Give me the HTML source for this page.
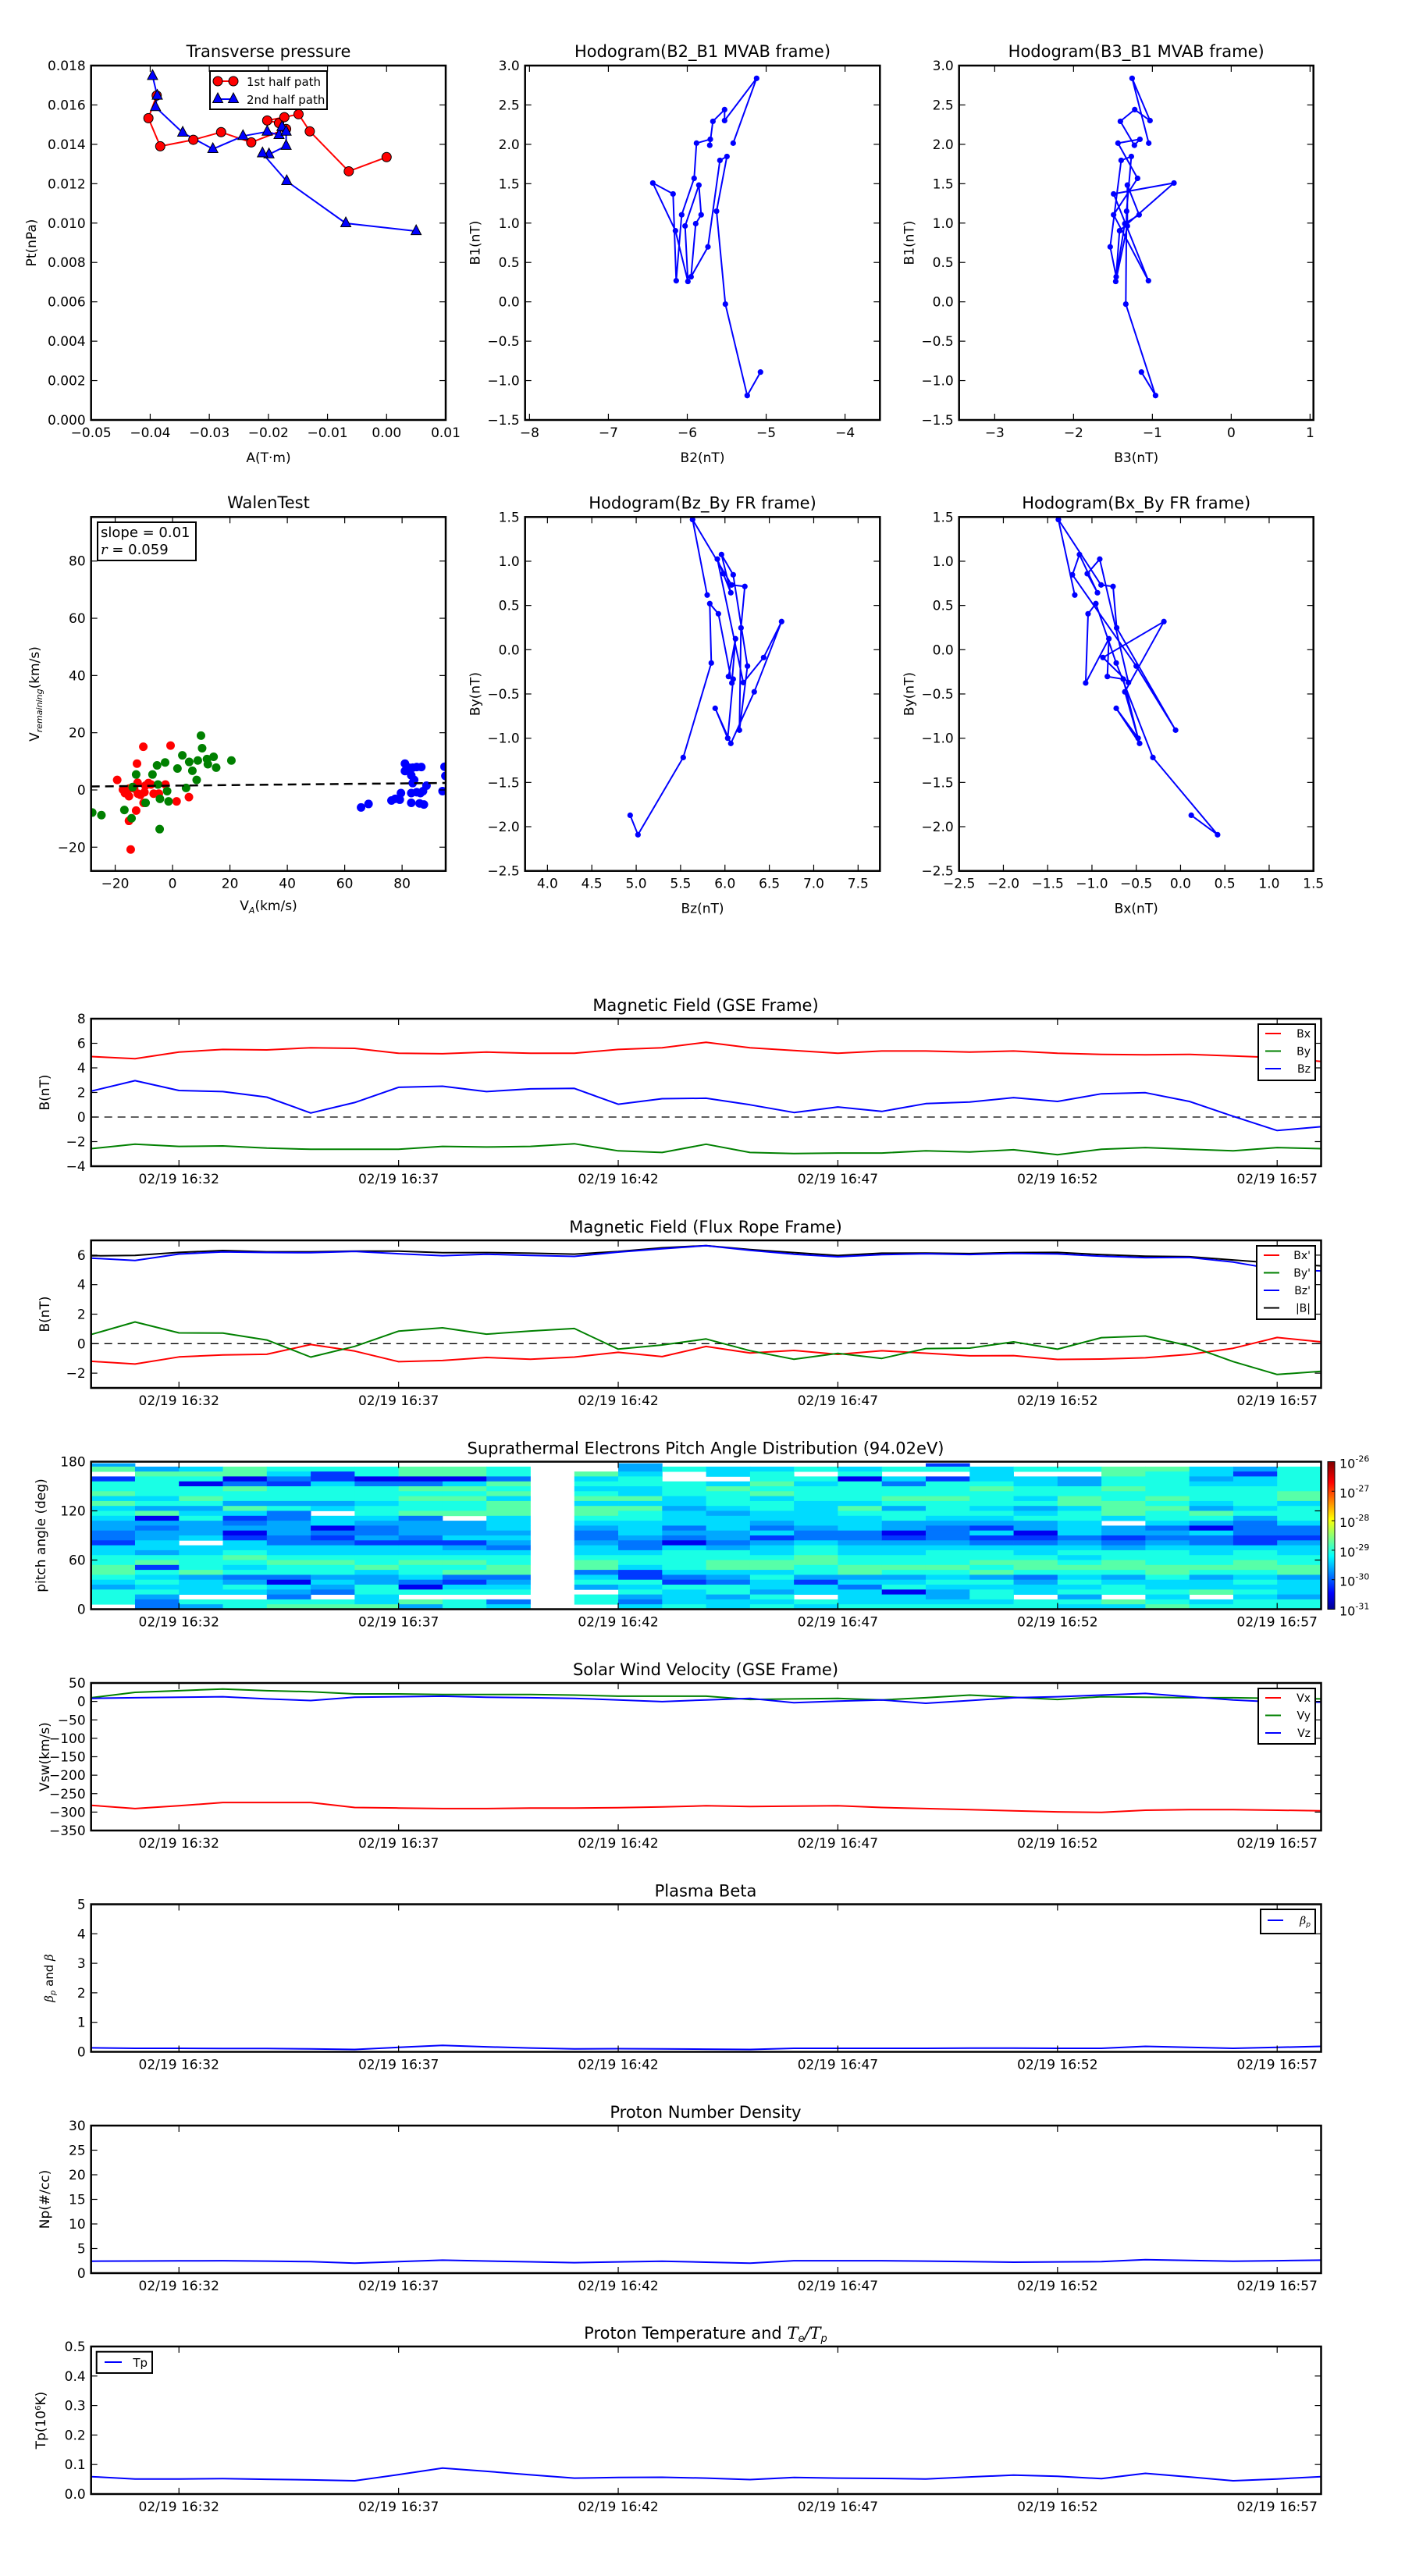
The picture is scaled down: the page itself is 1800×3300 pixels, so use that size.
<!DOCTYPE html>
<html><head><meta charset="utf-8"><title>Flux rope analysis</title>
<style>
html,body{margin:0;padding:0;background:#fff;}
svg{display:block;font-family:"DejaVu Sans","Liberation Sans",sans-serif;}
</style></head>
<body>
<svg id="fig" xmlns="http://www.w3.org/2000/svg" width="1800" height="3300" viewBox="0 0 1800 3300">
<rect x="0" y="0" width="1800" height="3300" fill="#fff"/>
<defs>
<linearGradient id="jet" x1="0" y1="1" x2="0" y2="0">
<stop offset="0" stop-color="#00008f"/><stop offset="0.11" stop-color="#0000ff"/><stop offset="0.36" stop-color="#00ffff"/><stop offset="0.61" stop-color="#ffff00"/><stop offset="0.86" stop-color="#ff0000"/><stop offset="1" stop-color="#800000"/>
</linearGradient>
</defs>
</svg>
<script>
// ---------- data ----------
const ptA1 = [-0.0389,-0.0403,-0.0383,-0.0327,-0.0280,-0.0229,-0.0170,-0.0182,-0.0202,-0.0173,-0.0149,-0.0130,-0.0064,0.0000];
const ptP1 = [0.01648,0.01533,0.01390,0.01423,0.01462,0.01410,0.01478,0.01508,0.01521,0.01538,0.01553,0.01466,0.01263,0.01335];
const ptA2 = [-0.0396,-0.0388,-0.0391,-0.0345,-0.0294,-0.0243,-0.0202,-0.0182,-0.0177,-0.0170,-0.0170,-0.0199,-0.0210,-0.0169,-0.0069,0.0050];
const ptP2 = [0.01747,0.01647,0.01589,0.01459,0.01376,0.01442,0.01464,0.01447,0.01488,0.01464,0.01392,0.01349,0.01354,0.01213,0.00999,0.00959];

const mvB1 = [2.015,2.838,2.302,2.441,2.292,1.988,2.064,2.015,1.568,1.105,0.268,1.370,1.509,0.903,0.259,0.963,1.482,1.105,0.993,0.318,0.698,1.796,1.846,1.151,-0.029,-1.190,-0.892];
const mvB2 = [-5.418,-5.121,-5.527,-5.527,-5.675,-5.715,-5.708,-5.883,-5.913,-6.071,-6.140,-6.180,-6.437,-6.150,-5.992,-6.028,-5.853,-5.824,-5.893,-5.952,-5.738,-5.586,-5.497,-5.629,-5.517,-5.240,-5.072];
const mvB3 = [-1.046,-1.257,-1.030,-1.224,-1.406,-1.228,-1.158,-1.436,-1.188,-1.492,-1.050,-1.492,-0.726,-1.416,-1.465,-1.317,-1.317,-1.168,-1.350,-1.459,-1.535,-1.396,-1.267,-1.327,-1.337,-0.960,-1.139];

const walenRedVA = [-19.3,-17.3,-16.6,-15.2,-15.1,-13.4,-12.2,-12.4,-10.2,-12.1,-11.2,-9.8,-9.5,-8.4,-7.5,-6.6,-4.8,-2.5,-0.7,1.4,5.7,-10.1,-12.7,-15.2,-14.6];
const walenRedVR = [3.5,0.1,-1.1,-2.2,0.5,0.5,2.5,9.2,15.1,-1.3,-1.7,-0.8,1.5,2.4,1.9,-1.3,-1.3,1.9,15.5,-4.0,-2.5,-4.5,-7.2,-10.8,-20.8];
const walenGreenVA = [-28.0,-24.8,-16.8,-14.3,-4.5,-9.4,-4.4,-1.4,-1.9,-5.1,-13.9,-12.7,-7.0,-5.4,-2.6,1.7,3.4,5.8,6.9,8.4,4.7,8.8,9.9,10.3,12.0,12.3,14.3,15.2,20.5];
const walenGreenVR = [-7.9,-8.8,-7.0,-9.9,-13.7,-4.5,-3.1,-4.0,-0.4,1.9,1.0,5.4,5.4,8.6,9.6,7.5,12.1,9.8,6.7,3.5,0.7,10.3,19.0,14.6,10.8,9.0,11.6,7.8,10.3];
const walenBlueVA = [65.7,68.3,76.3,77.6,79.2,79.6,81.0,81.0,82.3,83.7,85.1,86.7,83.2,84.2,83.7,83.2,85.1,86.4,87.3,88.5,83.2,86.1,87.6,94.8,95.1,94.1];
const walenBlueVR = [-6.1,-4.9,-3.7,-3.1,-3.4,-1.1,9.2,6.6,7.8,7.8,8.0,8.0,5.1,3.5,2.4,-1.1,-0.8,-1.1,-0.4,1.5,-4.5,-4.7,-5.1,8.1,4.9,-0.4];
const walenSlope = 0.01;
const walenIntercept = 1.5;

const minutes = [0,1,2,3,4,5,6,7,8,9,10,11,12,13,14,15,16,17,18,19,20,21,22,23,24,25,26,27,28];
const timeTickMin = [2,7,12,17,22,27];
const timeTickLabels = ["02/19 16:32","02/19 16:37","02/19 16:42","02/19 16:47","02/19 16:52","02/19 16:57"];

const gseBx = [4.92,4.74,5.28,5.50,5.46,5.64,5.59,5.19,5.15,5.28,5.19,5.19,5.50,5.64,6.08,5.64,5.41,5.19,5.37,5.37,5.28,5.37,5.19,5.10,5.06,5.10,4.97,4.83,4.52];
const gseBy = [-2.57,-2.21,-2.39,-2.35,-2.53,-2.62,-2.62,-2.62,-2.39,-2.44,-2.39,-2.17,-2.75,-2.88,-2.21,-2.88,-2.97,-2.93,-2.93,-2.75,-2.84,-2.66,-3.06,-2.62,-2.48,-2.62,-2.75,-2.48,-2.57];
const gseBz = [2.11,2.96,2.16,2.07,1.62,0.33,1.18,2.42,2.51,2.07,2.29,2.33,1.04,1.49,1.53,1.00,0.37,0.82,0.46,1.09,1.22,1.58,1.27,1.89,1.98,1.27,0.06,-1.10,-0.79];

const frBx = [-1.194,-1.379,-0.897,-0.762,-0.721,-0.056,-0.500,-1.221,-1.141,-0.938,-1.053,-0.912,-0.588,-0.876,-0.188,-0.629,-0.462,-0.726,-0.479,-0.647,-0.826,-0.809,-1.071,-1.044,-0.956,-0.726,-0.312,0.418,0.121];
const frBy = [0.618,1.471,0.732,0.715,0.247,-0.909,-0.185,0.847,1.076,0.644,0.859,1.024,-0.371,-0.088,0.318,-0.476,-1.059,-0.662,-1.000,-0.332,-0.303,0.124,-0.376,0.406,0.521,-0.150,-1.218,-2.091,-1.871];
const frBz = [5.800,5.635,6.075,6.224,6.181,6.163,6.254,6.093,5.961,6.066,5.981,5.914,6.207,6.436,6.638,6.330,6.066,5.890,6.031,6.093,6.040,6.119,6.078,5.926,5.829,5.846,5.530,5.020,4.932];
const frBt = [5.954,5.985,6.185,6.311,6.228,6.230,6.277,6.272,6.164,6.172,6.133,6.071,6.246,6.496,6.648,6.379,6.175,5.971,6.132,6.136,6.104,6.173,6.183,6.031,5.930,5.893,5.671,5.454,5.276];

const swVx = [-281.6,-290.5,-283,-274,-274,-274,-287.6,-289,-290.5,-290.5,-289,-289,-288,-286,-283,-285,-284,-283,-287.6,-290.5,-293.5,-296.5,-299.5,-301,-295,-293.5,-293.5,-295,-296.5];
const swVy = [9.9,24.7,29,33.6,29,26.2,20.3,20.3,18.8,18.8,18.8,17.3,14.3,14.3,14.3,5.4,6.9,8.4,4,9.9,17.3,11.3,5.4,12.8,11.3,9.9,9.9,8.4,6.9];
const swVz = [8.4,9.9,11.3,12.8,6.9,2.4,11.3,12.8,14.3,11.3,9.9,8.4,4,-0.6,4,8.4,-3.5,0.9,4,-5,2.4,9.9,12.8,17.3,21.7,12.8,4,-1.9,-1.9];

const betaP = [0.135,0.12,0.12,0.115,0.11,0.10,0.08,0.15,0.22,0.17,0.13,0.10,0.105,0.10,0.09,0.08,0.12,0.12,0.12,0.12,0.125,0.125,0.12,0.12,0.185,0.15,0.12,0.15,0.185];
const densNp = [2.43,2.46,2.50,2.53,2.45,2.33,2.03,2.33,2.63,2.46,2.30,2.13,2.28,2.43,2.23,2.03,2.53,2.53,2.53,2.45,2.35,2.23,2.28,2.33,2.74,2.58,2.43,2.53,2.63];
const tempTp = [0.059,0.051,0.051,0.052,0.050,0.048,0.045,0.066,0.088,0.077,0.065,0.054,0.056,0.057,0.054,0.049,0.056,0.054,0.053,0.051,0.058,0.064,0.060,0.052,0.070,0.058,0.045,0.051,0.059];

// PAD: level codes per time column (top row = 174-180 deg), '.' = no data
const padLevelLog = [null,-30.45,-30.1,-29.8,-29.55,-29.3,-29.0,-28.7,-28.4];
const padCols = [
"47.2667575654433255667765 4666.".replace(' ',''),
".476666564714344554672656 56433".replace(' ',''),
".576166764564445.55666745 55.64".replace(' ',''),
".771376647523412556765634 65.66".replace(' ',''),
".653266646334443355676631 54367".replace(' ',''),
".622566645.55132355676645 43.67".replace(' ',''),
".661366656654334255667544 66557".replace(' ',''),
".771376766734443255676653 16.74".replace(' ',''),
".77157676 67.444524567673256.66".replace(' ',''),
".663767577755545435667734 56.35".replace(' ',''),
"..............................",
"..75656757765433455677356 4.66.".replace(' ',''),
"445665575766555433566522 656435".replace(' ',''),
".6..666554555343156666532 65556".replace(' ',''),
".55.576665455544346677543 66455".replace(' ',''),
".566767566554352455677565 54656".replace(' ',''),
".6.6566655555433566776642 55.65".replace(' ',''),
".561666657655533455667745 35556".replace(' ',''),
".6.5366764664412455667645 61556".replace(' ',''),
"26.2666766654333456667656 54456".replace(' ',''),
".555676665654252356676746 56656".replace(' ',''),
".6.5566564564412355677634 55.66".replace(' ',''),
".6.4466775665553456567656 56465".replace(' ',''),
".7766766777 5.442346677645 66.75".replace(/ /g,''),
".766666767665343456667765 56567".replace(' ',''),
".554566654764153355667645 57.56".replace(' ',''),
".425566665643332256677656 56566".replace(' ',''),
".666667756665332455667745 55466".replace(' ','')
];
const cbLabels = ["-26","-27","-28","-29","-30","-31"];

// ---------- helpers ----------
const NS = 'http://www.w3.org/2000/svg';
const svg = document.getElementById('fig');
function mk(tag, attrs, name, parent) {
  const e = document.createElementNS(NS, tag);
  for (const k in attrs) e.setAttribute(k, attrs[k]);
  
  
  (parent || svg).appendChild(e);
  return e;
}
function txt(x, y, s, o, name, parent) {
  o = o || {};
  const a = {x: x, y: y, 'font-size': o.size || 17, fill: '#000', 'text-anchor': o.anchor || 'middle'};
  if (o.rot) a.transform = 'rotate(-90 ' + x + ' ' + y + ')';
  if (o.style) a['font-style'] = o.style;
  const t = mk('text', a, name, parent);
  t.textContent = s;
  return t;
}
function lin(d0, d1, r0, r1) { return v => r0 + (v - d0) / (d1 - d0) * (r1 - r0); }
let clipN = 0;
function axes(p) {
  const g = mk('g', {}, p.name);
  const id = 'clip' + (clipN++);
  const cp = mk('clipPath', {id: id}, p.name + '-clip', g);
  mk('rect', {x: p.x0, y: p.y0, width: p.x1 - p.x0, height: p.y1 - p.y0}, 'clip-rect', cp);
  const data = mk('g', {'clip-path': 'url(#' + id + ')'}, p.name + '-plot-area', g);
  p.xt.forEach((v, i) => {
    const X = p.xs(v);
    mk('line', {x1: X, y1: p.y1, x2: X, y2: p.y1 - 8, stroke: '#000', 'stroke-width': 1.2}, 'x-tick', g);
    mk('line', {x1: X, y1: p.y0, x2: X, y2: p.y0 + 8, stroke: '#000', 'stroke-width': 1.2}, 'x-tick', g);
    txt(X, p.y1 + 22, p.xl[i], {}, 'x-tick-label', g);
  });
  p.yt.forEach((v, i) => {
    const Y = p.ys(v);
    mk('line', {x1: p.x0, y1: Y, x2: p.x0 + 8, y2: Y, stroke: '#000', 'stroke-width': 1.2}, 'y-tick', g);
    mk('line', {x1: p.x1, y1: Y, x2: p.x1 - 8, y2: Y, stroke: '#000', 'stroke-width': 1.2}, 'y-tick', g);
    txt(p.x0 - 7, Y + 6, p.yl[i], {anchor: 'end'}, 'y-tick-label', g);
  });
  p.g = g; p.data = data;
  return p;
}
function frame(p) {
  mk('rect', {x: p.x0, y: p.y0, width: p.x1 - p.x0, height: p.y1 - p.y0, fill: 'none', stroke: '#000', 'stroke-width': 2.5}, 'axes-frame', p.g);
}
function polyline(p, xs, ys, color, name, w) {
  const pts = xs.map((x, i) => p.xs(x).toFixed(1) + ',' + p.ys(ys[i]).toFixed(1)).join(' ');
  return mk('polyline', {points: pts, fill: 'none', stroke: color, 'stroke-width': w || 2, 'stroke-linejoin': 'round'}, name, p.data);
}
function dots(p, xs, ys, color, r, name, stroke) {
  xs.forEach((x, i) => {
    const c = mk('circle', {cx: p.xs(x), cy: p.ys(ys[i]), r: r, fill: color}, name, p.data);
    if (stroke) { c.setAttribute('stroke', stroke); c.setAttribute('stroke-width', 1); }
  });
}
function tris(p, xs, ys, color, name) {
  xs.forEach((x, i) => {
    const X = p.xs(x), Y = p.ys(ys[i]);
    mk('polygon', {points: (X) + ',' + (Y - 8) + ' ' + (X - 6.5) + ',' + (Y + 4.5) + ' ' + (X + 6.5) + ',' + (Y + 4.5), fill: color, stroke: '#000', 'stroke-width': 1}, name, p.data);
  });
}
function range(a, b, s) { const r = []; for (let v = a; v <= b + 1e-9; v += s) r.push(+v.toFixed(6)); return r; }
function fmt(v, d) { const s = Math.abs(v).toFixed(d); return (v < 0 ? '\u2212' : '') + s; }

// ---------- top row ----------
const TX = [[116.7, 571], [672.7, 1127.3], [1228.7, 1682.7]];
const TY1 = [84, 538], TY2 = [662.3, 1115.7];

// Transverse pressure
{
  const yt = range(0, 0.018, 0.002);
  const xt = range(-0.05, 0.01, 0.01);
  const p = axes({name: 'transverse-pressure-chart', x0: TX[0][0], x1: TX[0][1], y0: TY1[0], y1: TY1[1],
    xs: lin(-0.05, 0.01, TX[0][0], TX[0][1]), ys: lin(0, 0.018, TY1[1], TY1[0]),
    xt: xt, xl: xt.map(v => fmt(v, 2)), yt: yt, yl: yt.map(v => fmt(v, 3))});
  polyline(p, ptA1, ptP1, '#ff0000', 'first-half-path-line');
  polyline(p, ptA2, ptP2, '#0000ff', 'second-half-path-line');
  dots(p, ptA1, ptP1, '#ff0000', 6, 'first-half-point', '#000');
  tris(p, ptA2, ptP2, '#0000ff', 'second-half-point');
  frame(p);
  txt(344, 73, 'Transverse pressure', {size: 21}, 'transverse-pressure-title');
  txt(344, 592, 'A(T\u00b7m)', {}, 'x-axis-title');
  txt(46, 311, 'Pt(nPa)', {rot: true}, 'y-axis-title');
  const lg = mk('g', {}, 'legend');
  mk('rect', {x: 269, y: 91, width: 150, height: 49, fill: '#fff', stroke: '#000', 'stroke-width': 2}, 'legend-box', lg);
  mk('line', {x1: 279, y1: 104, x2: 299, y2: 104, stroke: '#f00', 'stroke-width': 2}, 'legend-line-red', lg);
  mk('circle', {cx: 279, cy: 104, r: 6, fill: '#f00', stroke: '#000', 'stroke-width': 1}, 'legend-marker', lg);
  mk('circle', {cx: 299, cy: 104, r: 6, fill: '#f00', stroke: '#000', 'stroke-width': 1}, 'legend-marker', lg);
  txt(316, 110, '1st half path', {size: 15, anchor: 'start'}, 'legend-entry-first-half', lg);
  mk('line', {x1: 279, y1: 127, x2: 299, y2: 127, stroke: '#00f', 'stroke-width': 2}, 'legend-line-blue', lg);
  mk('polygon', {points: '279,119 272.5,131.5 285.5,131.5', fill: '#00f', stroke: '#000', 'stroke-width': 1}, 'legend-marker', lg);
  mk('polygon', {points: '299,119 292.5,131.5 305.5,131.5', fill: '#00f', stroke: '#000', 'stroke-width': 1}, 'legend-marker', lg);
  txt(316, 133, '2nd half path', {size: 15, anchor: 'start'}, 'legend-entry-second-half', lg);
}
function hodo(name, col, row, xd, yd, xt, yt, xdec, ydec, xv, yv, title, xlab, ylab) {
  const X = TX[col], Y = row ? TY2 : TY1;
  const p = axes({name: name, x0: X[0], x1: X[1], y0: Y[0], y1: Y[1], xs: lin(xd[0], xd[1], X[0], X[1]), ys: lin(yd[0], yd[1], Y[1], Y[0]),
    xt: xt, xl: xt.map(v => fmt(v, xdec)), yt: yt, yl: yt.map(v => fmt(v, ydec))});
  polyline(p, xv, yv, '#0000ff', 'hodogram-path');
  dots(p, xv, yv, '#0000ff', 3.6, 'hodogram-point');
  frame(p);
  const cx = (X[0] + X[1]) / 2;
  txt(cx, Y[0] - 11, title, {size: 21}, name + '-title');
  txt(cx, Y[1] + 54, xlab, {}, 'x-axis-title');
  txt(X[0] - 58, (Y[0] + Y[1]) / 2, ylab, {rot: true}, 'y-axis-title');
}
hodo('hodogram-b2-b1', 1, 0, [-8.056, -3.558], [-1.5, 3.0], range(-8, -4, 1), range(-1.5, 3.0, 0.5), 0, 1, mvB2, mvB1, 'Hodogram(B2_B1 MVAB frame)', 'B2(nT)', 'B1(nT)');
hodo('hodogram-b3-b1', 2, 0, [-3.452, 1.043], [-1.5, 3.0], range(-3, 1, 1), range(-1.5, 3.0, 0.5), 0, 1, mvB3, mvB1, 'Hodogram(B3_B1 MVAB frame)', 'B3(nT)', 'B1(nT)');
hodo('hodogram-bz-by', 1, 1, [3.748, 7.746], [-2.5, 1.5], range(4.0, 7.5, 0.5), range(-2.5, 1.5, 0.5), 1, 1, frBz, frBy, 'Hodogram(Bz_By FR frame)', 'Bz(nT)', 'By(nT)');
hodo('hodogram-bx-by', 2, 1, [-2.5, 1.5], [-2.5, 1.5], range(-2.5, 1.5, 0.5), range(-2.5, 1.5, 0.5), 1, 1, frBx, frBy, 'Hodogram(Bx_By FR frame)', 'Bx(nT)', 'By(nT)');

// Walen test
{
  const xt = range(-20, 80, 20), yt = range(-20, 80, 20);
  const p = axes({name: 'walen-test-chart', x0: TX[0][0], x1: TX[0][1], y0: TY2[0], y1: TY2[1],
    xs: lin(-28.4, 95.2, TX[0][0], TX[0][1]), ys: lin(-28.3, 95.4, TY2[1], TY2[0]),
    xt: xt, xl: xt.map(v => fmt(v, 0)), yt: yt, yl: yt.map(v => fmt(v, 0))});
  dots(p, walenRedVA, walenRedVR, '#ff0000', 5.5, 'walen-point-x');
  dots(p, walenGreenVA, walenGreenVR, '#008000', 5.5, 'walen-point-y');
  dots(p, walenBlueVA, walenBlueVR, '#0000ff', 5.5, 'walen-point-z');
  const fx = [-28.4, 95.2];
  polyline(p, fx, fx.map(v => walenSlope * v + walenIntercept), '#000', 'walen-fit-line', 2.5).setAttribute('stroke-dasharray', '11,7');
  frame(p);
  txt(344, 651, 'WalenTest', {size: 21}, 'walen-test-title');
  mk('rect', {x: 125, y: 669, width: 126, height: 49, fill: '#fff', stroke: '#000', 'stroke-width': 2}, 'walen-stats-box');
  txt(129, 688, 'slope = 0.01', {size: 18, anchor: 'start'}, 'walen-slope-text');
  const t = txt(129, 710, '', {size: 18, anchor: 'start'}, 'walen-r-text');
  const ts = document.createElementNS(NS, 'tspan'); ts.setAttribute('font-style', 'italic'); ts.setAttribute('font-family', 'DejaVu Serif, serif'); ts.textContent = 'r';
  
  
  t.appendChild(ts); t.appendChild(document.createTextNode(' = 0.059'));
  const xl = txt(344, 1166, 'V', {}, 'x-axis-title');
  const s1 = document.createElementNS(NS, 'tspan'); s1.setAttribute('font-size', '11'); s1.setAttribute('font-style', 'italic'); s1.setAttribute('dy', '4'); s1.textContent = 'A';
  
  
  const s2 = document.createElementNS(NS, 'tspan'); s2.setAttribute('dy', '-4'); s2.textContent = '(km/s)';
  
  
  xl.appendChild(s1); xl.appendChild(s2);
  const yl = txt(50, 889, 'V', {rot: true}, 'y-axis-title');
  const s3 = document.createElementNS(NS, 'tspan'); s3.setAttribute('font-size', '11'); s3.setAttribute('font-style', 'italic'); s3.setAttribute('dy', '4'); s3.textContent = 'remaining';
  
  
  const s4 = document.createElementNS(NS, 'tspan'); s4.setAttribute('dy', '-4'); s4.textContent = '(km/s)';
  
  
  yl.appendChild(s3); yl.appendChild(s4);
}

// ---------- time series panels ----------
const LX = 116.7, RX = 1692.5, PH = 189;
const tx = lin(0, 28, LX, RX);
function tpanel(name, top, yd, yt, ydec, title, ylab) {
  const p = axes({name: name, x0: LX, x1: RX, y0: top, y1: top + PH, xs: tx, ys: lin(yd[0], yd[1], top + PH, top),
    xt: timeTickMin, xl: timeTickLabels, yt: yt, yl: yt.map(v => fmt(v, ydec))});
  txt(904, top - 10, title, {size: 21}, name + '-title');
  if (ylab) txt(63, top + PH / 2, ylab, {rot: true}, 'y-axis-title');
  return p;
}
function legend(x, y, w, rows, entries, name) {
  const g = mk('g', {}, name);
  mk('rect', {x: x, y: y, width: w, height: rows, fill: '#fff', stroke: '#000', 'stroke-width': 2}, 'legend-box', g);
  entries.forEach((e, i) => {
    const yy = y + 12 + i * 22.5;
    mk('line', {x1: x + 9, y1: yy, x2: x + 29, y2: yy, stroke: e[1], 'stroke-width': 2}, 'legend-line', g);
    txt(x + w - 6, yy + 5, e[0], {size: 14, anchor: 'end'}, 'legend-entry-' + e[0].replace(/[^A-Za-z]/g, '').toLowerCase(), g);
  });
}
function zeroLine(p) {
  mk('line', {x1: LX, y1: p.ys(0), x2: RX, y2: p.ys(0), stroke: '#000', 'stroke-width': 1.3, 'stroke-dasharray': '10,7'}, 'zero-line', p.data);
}
// GSE
{
  const p = tpanel('magnetic-field-gse-chart', 1305, [-4, 8], range(-4, 8, 2), 0, 'Magnetic Field (GSE Frame)', 'B(nT)');
  zeroLine(p);
  polyline(p, minutes, gseBx, '#ff0000', 'series-bx');
  polyline(p, minutes, gseBy, '#008000', 'series-by');
  polyline(p, minutes, gseBz, '#0000ff', 'series-bz');
  frame(p);
  legend(1612, 1312, 73, 72, [['Bx', '#ff0000'], ['By', '#008000'], ['Bz', '#0000ff']], 'gse-legend');
}
// Flux rope frame
{
  const p = tpanel('magnetic-field-fr-chart', 1589, [-3, 7], range(-2, 6, 2), 0, 'Magnetic Field (Flux Rope Frame)', 'B(nT)');
  zeroLine(p);
  polyline(p, minutes, frBx, '#ff0000', 'series-bx-prime');
  polyline(p, minutes, frBy, '#008000', 'series-by-prime');
  polyline(p, minutes, frBt, '#000000', 'series-b-total');
  polyline(p, minutes, frBz, '#0000ff', 'series-bz-prime');
  frame(p);
  legend(1610, 1596, 75, 94, [["Bx'", '#ff0000'], ["By'", '#008000'], ["Bz'", '#0000ff'], ['|B|', '#000000']], 'fr-legend');
}
// PAD
{
  const top = 1872.5;
  const p = tpanel('pitch-angle-distribution-chart', top, [0, 180], [0, 60, 120, 180], 0, 'Suprathermal Electrons Pitch Angle Distribution (94.02eV)', null);
  txt(58, top + PH / 2, 'pitch angle (deg)', {rot: true}, 'y-axis-title');
  padCols.forEach((col, c) => {
    for (let r = 0; r < 30; r++) {
      const ch = col[r];
      if (!ch || ch === '.') continue;
      const lg = padLevelLog[+ch];
      const f = (lg + 31) / 5;
      const cl = v => Math.round(255 * Math.max(0, Math.min(1, v)));
      const rr = cl(1.5 - Math.abs(4 * f - 3)), gg = cl(1.5 - Math.abs(4 * f - 2)), bb = cl(1.5 - Math.abs(4 * f - 1));
      const a0 = 180 - 6 * r, a1 = 174 - 6 * r;
      const x0 = p.xs(c), x1 = p.xs(c + 1);
      mk('rect', {x: x0, y: p.ys(a0) + (r === 0 ? 2 : 0), width: x1 - x0 + 0.4, height: p.ys(a1) - p.ys(a0) + 0.4 - (r === 0 ? 2 : 0), fill: 'rgb(' + rr + ',' + gg + ',' + bb + ')'}, 'pad-cell', p.data);
    }
  });
  frame(p);
  const cb = mk('g', {}, 'colorbar');
  mk('rect', {x: 1701, y: top, width: 9, height: PH, fill: 'url(#jet)', stroke: '#000', 'stroke-width': 1}, 'colorbar-gradient', cb);
  cbLabels.forEach((s, i) => {
    const y = top + i * PH / 5;
    mk('line', {x1: 1706, y1: y, x2: 1710, y2: y, stroke: '#000', 'stroke-width': 1}, 'colorbar-tick', cb);
    const t = txt(1716, y + 8, '10', {size: 16, anchor: 'start'}, 'colorbar-label', cb);
    const sp = document.createElementNS(NS, 'tspan'); sp.setAttribute('font-size', '11'); sp.setAttribute('dy', '-8'); sp.textContent = s;
    
    
    t.appendChild(sp);
  });
}
// Solar wind
{
  const p = tpanel('solar-wind-velocity-chart', 2156, [-350, 50], range(-350, 50, 50), 0, 'Solar Wind Velocity (GSE Frame)', 'Vsw(km/s)');
  polyline(p, minutes, swVx, '#ff0000', 'series-vx');
  polyline(p, minutes, swVy, '#008000', 'series-vy');
  polyline(p, minutes, swVz, '#0000ff', 'series-vz');
  frame(p);
  legend(1612, 2163, 73, 71, [['Vx', '#ff0000'], ['Vy', '#008000'], ['Vz', '#0000ff']], 'sw-legend');
}
// Plasma beta
{
  const p = tpanel('plasma-beta-chart', 2439.5, [0, 5], range(0, 5, 1), 0, 'Plasma Beta', null);
  const yl = txt(68, 2439.5 + PH / 2, '', {rot: true, size: 15}, 'y-axis-title');
  yl.innerHTML = '<tspan font-style="italic" font-family="DejaVu Serif, serif">\u03b2</tspan><tspan font-size="10" dy="3" font-style="italic">p</tspan><tspan dy="-3"> and </tspan><tspan font-style="italic" font-family="DejaVu Serif, serif">\u03b2</tspan>';
  polyline(p, minutes, betaP, '#0000ff', 'series-beta-p');
  frame(p);
  const g = mk('g', {}, 'beta-legend');
  mk('rect', {x: 1615, y: 2446, width: 70, height: 31, fill: '#fff', stroke: '#000', 'stroke-width': 2}, 'legend-box', g);
  mk('line', {x1: 1624, y1: 2460, x2: 1644, y2: 2460, stroke: '#00f', 'stroke-width': 2}, 'legend-line', g);
  const t = txt(1672, 2465, '', {size: 14}, 'legend-entry-beta-p', g);
  t.innerHTML = '<tspan font-style="italic" font-family="DejaVu Serif, serif">\u03b2</tspan><tspan font-size="9" dy="3" font-style="italic">p</tspan>';
}
// Density
{
  const p = tpanel('proton-density-chart', 2723, [0, 30], range(0, 30, 5), 0, 'Proton Number Density', 'Np(#/cc)');
  polyline(p, minutes, densNp, '#0000ff', 'series-np');
  frame(p);
}
// Temperature
{
  const p = tpanel('proton-temperature-chart', 3006, [0, 0.5], range(0, 0.5, 0.1), 1, '', null);
  const tt = txt(904, 2996, 'Proton Temperature and ', {size: 21}, 'proton-temperature-title');
  tt.innerHTML = 'Proton Temperature and <tspan font-style="italic" font-family="DejaVu Serif, serif">T</tspan><tspan font-size="13" dy="4" font-style="italic">e</tspan><tspan dy="-4" font-style="italic" font-family="DejaVu Serif, serif">/T</tspan><tspan font-size="13" dy="4" font-style="italic">p</tspan>';
  const yl = txt(58, 3006 + PH / 2, '', {rot: true}, 'y-axis-title');
  yl.innerHTML = 'Tp(10<tspan font-size="10" dy="-6">6</tspan><tspan dy="6">K)</tspan>';
  polyline(p, minutes, tempTp, '#0000ff', 'series-tp');
  frame(p);
  const g = mk('g', {}, 'tp-legend');
  mk('rect', {x: 123.7, y: 3012.7, width: 71.3, height: 27.3, fill: '#fff', stroke: '#000', 'stroke-width': 2}, 'legend-box', g);
  mk('line', {x1: 134, y1: 3026, x2: 156, y2: 3026, stroke: '#00f', 'stroke-width': 2}, 'legend-line', g);
  txt(189, 3032, 'Tp', {size: 15, anchor: 'end'}, 'legend-entry-tp', g);
}
</script>
</body></html>
